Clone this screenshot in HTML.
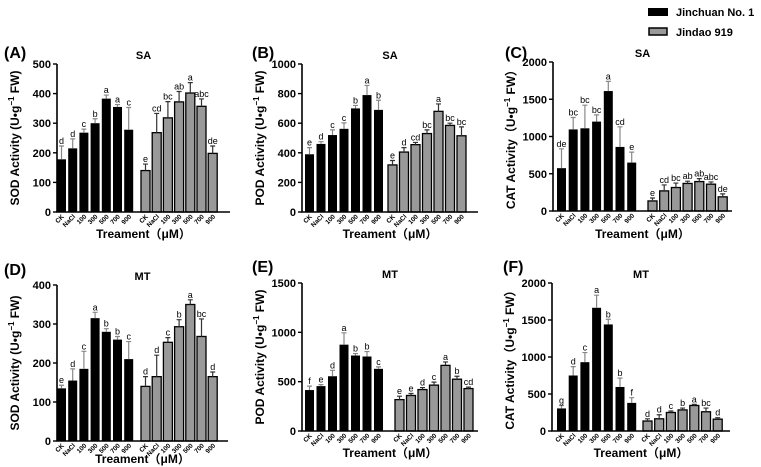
<!DOCTYPE html>
<html><head><meta charset="utf-8">
<style>
body{margin:0;background:#fff;}
svg{display:block;font-family:"Liberation Sans",Arial,sans-serif;}
</style></head>
<body>
<svg id="chart" width="761" height="467" viewBox="0 0 761 467" xmlns="http://www.w3.org/2000/svg">
<g>
  <rect x="648" y="8" width="20" height="8" fill="#000"/>
  <text x="676" y="16" font-size="11" font-weight="bold">Jinchuan No. 1</text>
  <rect x="649" y="28" width="18" height="7" fill="#999" stroke="#000" stroke-width="1.5"/>
  <text x="676" y="36" font-size="11" font-weight="bold">Jindao 919</text>
</g>
</svg>
<script>
const categories = ["CK","NaCl","100","300","500","700","900"];
// Panel A: SOD SA
const aG1 = [178,215,268,300,383,355,278];
const aG1Err = [45,32,12,15,12,8,75];
const aG1Let = ["d","d","c","b","a","a","c"];
const aG2 = [140,268,318,372,402,357,198];
const aG2Err = [22,65,55,35,35,25,25];
const aG2Let = ["e","cd","bc","ab","a","abc","de"];
const aTicks = [0,100,200,300,400,500];
// Panel B: POD SA
const bG1 = [390,460,520,562,700,790,690];
const bG1Err = [45,15,35,40,20,65,65];
const bG1Let = ["e","d","c","c","b","a","b"];
const bG2 = [318,405,455,530,680,585,515];
const bG2Err = [30,30,15,25,50,15,60];
const bG2Let = ["e","d","cd","bc","a","bc","bc"];
const bTicks = [0,200,400,600,800,1000];
// Panel C: CAT SA
const cG1 = [575,1095,1110,1200,1610,860,650];
const cG1Err = [260,160,310,90,130,270,140];
const cG1Let = ["de","bc","bc","bc","a","cd","e"];
const cG2 = [135,270,315,370,395,360,190];
const cG2Err = [40,80,60,30,40,30,40];
const cG2Let = ["e","cd","bc","ab","ab","abc","de"];
const cTicks = [0,500,1000,1500,2000];
// Panel D: SOD MT
const dG1 = [135,155,185,315,280,260,210];
const dG1Err = [8,30,45,15,8,8,45];
const dG1Let = ["e","d","c","a","b","b","c"];
const dG2 = [140,165,253,293,350,268,165];
const dG2Err = [25,55,12,18,12,45,12];
const dG2Let = ["d","d","c","b","a","bc","d"];
const dTicks = [0,100,200,300,400];
// Panel E: POD MT
const eG1 = [415,455,555,875,765,755,630];
const eG1Err = [40,15,60,120,20,50,20];
const eG1Let = ["f","e","d","a","b","b","c"];
const eG2 = [318,360,420,465,665,525,430];
const eG2Err = [35,20,20,30,35,30,15];
const eG2Let = ["e","e","d","c","a","b","cd"];
const eTicks = [0,500,1000,1500];
// Panel F: CAT MT
const fG1 = [305,750,930,1665,1440,595,380];
const fG1Err = [40,120,130,170,70,120,70];
const fG1Let = ["g","d","c","a","b","b","f"];
const fG2 = [135,165,250,285,345,260,160];
const fG2Err = [30,55,20,25,15,50,20];
const fG2Let = ["d","d","c","b","a","bc","d"];
const fTicks = [0,500,1000,1500,2000];

const NS = "http://www.w3.org/2000/svg";
const svg = document.getElementById("chart");
function mk(tag, attrs, parent, txt){
  const e = document.createElementNS(NS, tag);
  for (const k in attrs) e.setAttribute(k, attrs[k]);
  if (txt !== undefined) e.textContent = txt;
  (parent||svg).appendChild(e);
  return e;
}
const panels = [
 {id:"a",tag:"(A)",title:"SA",ylab:"SOD Activity (U•g",ytail:" FW)",ax:57,top:64,bot:212,end:230,g1x:57,g2x:141,pitch:11.2,max:500,ticks:aTicks,g1:aG1,e1:aG1Err,l1:aG1Let,g2:aG2,e2:aG2Err,l2:aG2Let,lx:4,ly:58,ty:238},
 {id:"b",tag:"(B)",title:"SA",ylab:"POD Activity (U•g",ytail:" FW)",ax:302,top:64,bot:212,end:478,g1x:305,g2x:388,pitch:11.5,max:1000,ticks:bTicks,g1:bG1,e1:bG1Err,l1:bG1Let,g2:bG2,e2:bG2Err,l2:bG2Let,lx:252,ly:58,ty:238},
 {id:"c",tag:"(C)",title:"SA",ylab:"CAT Activity（U•g",ytail:" FW）",ax:553,top:62,bot:211,end:732,g1x:557,g2x:648,pitch:11.7,max:2000,ticks:cTicks,g1:cG1,e1:cG1Err,l1:cG1Let,g2:cG2,e2:cG2Err,l2:cG2Let,lx:505,ly:58,ty:238},
 {id:"d",tag:"(D)",title:"MT",ylab:"SOD Activity (U•g",ytail:" FW)",ax:57,top:285,bot:441,end:228,g1x:57,g2x:141,pitch:11.2,max:400,ticks:dTicks,g1:dG1,e1:dG1Err,l1:dG1Let,g2:dG2,e2:dG2Err,l2:dG2Let,lx:4,ly:275,ty:463},
 {id:"e",tag:"(E)",title:"MT",ylab:"POD Activity (U•g",ytail:" FW)",ax:302,top:283,bot:431,end:478,g1x:305,g2x:395,pitch:11.5,max:1500,ticks:eTicks,g1:eG1,e1:eG1Err,l1:eG1Let,g2:eG2,e2:eG2Err,l2:eG2Let,lx:252,ly:272,ty:457},
 {id:"f",tag:"(F)",title:"MT",ylab:"CAT Activity（U•g",ytail:" FW）",ax:552,top:283,bot:431,end:730,g1x:557,g2x:643,pitch:11.7,max:2000,ticks:fTicks,g1:fG1,e1:fG1Err,l1:fG1Let,g2:fG2,e2:fG2Err,l2:fG2Let,lx:503,ly:272,ty:457}
];
const bw = 9;
panels.forEach(p => {
  const pitch = p.pitch;
  const g = mk("g", {});
  
  
  const y = v => p.bot - v / p.max * (p.bot - p.top);
  const lab = mk("text", {x:p.lx, y:p.ly, "font-size":16, "font-weight":"bold"}, g, p.tag);
  
  
  const tt = mk("text", {x:(p.ax+p.end)/2, y:p.top-5, "font-size":11, "font-weight":"bold", "text-anchor":"middle"}, g, p.title);
  
  
  [[p.g1,p.e1,p.l1,p.g1x,"#000"],[p.g2,p.e2,p.l2,p.g2x,"#999"]].forEach((s, si) => {
    s[0].forEach((v, i) => {
      const x = s[3] + i * pitch;
      const yt = y(v), ye = y(v + s[1][i]);
      const r = mk("rect", {x:x, y:yt, width:bw, height:p.bot-yt, fill:s[4], stroke:"#000", "stroke-width": si ? 1.3 : 0}, g);
      
      
      const ec = si ? "#333" : "#888";
      const el = mk("path", {d:`M${x+bw/2},${yt} V${ye} M${x+bw/2-2.5},${ye} H${x+bw/2+2.5}`, stroke:ec, "stroke-width":1.2, fill:"none"}, g);
      
      
      const lt = mk("text", {x:x+bw/2, y:ye-2, "font-size":9, "text-anchor":"middle"}, g, s[2][i]);
      
      
      const cl = mk("text", {x:x+bw/2+3, y:p.bot+5, "font-size":6.5, "font-weight":"bold", "text-anchor":"end", transform:`rotate(-45 ${x+bw/2+3} ${p.bot+5})`}, g, categories[i]);
      
      
    });
  });
  const axs = mk("path", {d:`M${p.ax},${p.top} V${p.bot} H${p.end}`, stroke:"#000", "stroke-width":1.6, fill:"none"}, g);
  
  
  p.ticks.forEach(t => {
    const tk = mk("line", {x1:p.ax-4, x2:p.ax, y1:y(t), y2:y(t), stroke:"#000", "stroke-width":1.4}, g);
    
    
    const tl = mk("text", {x:p.ax-6, y:y(t)+4, "font-size":11, "font-weight":"bold", "text-anchor":"end"}, g, t);
    
    
  });
  const cy = (p.top + p.bot) / 2, yx = p.ax - 38;
  const yt = mk("text", {x:yx, y:cy, "font-size":12, "font-weight":"bold", "text-anchor":"middle", transform:`rotate(-90 ${yx} ${cy})`}, g);
  
  
  yt.appendChild(document.createTextNode(p.ylab));
  mk("tspan", {dy:-5, "font-size":8}, yt, "−1");
  mk("tspan", {dy:5}, yt, p.ytail);
  const xt = mk("text", {x:(p.ax+p.end)/2, y:p.ty, "font-size":12, "font-weight":"bold", "text-anchor":"middle"}, g, "Treament（μM）");
  
  
  xt.setAttribute('font-family', '"Liberation Sans","Noto Sans CJK SC",sans-serif');
});
</script>
</body></html>
